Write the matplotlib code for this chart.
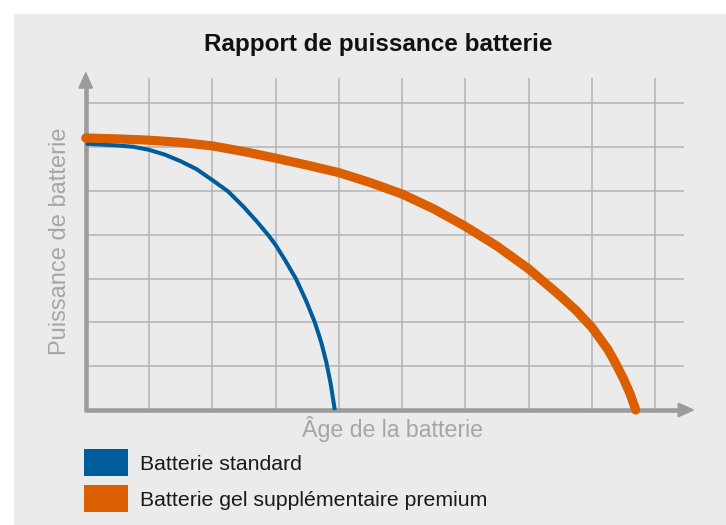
import numpy as np
import matplotlib
matplotlib.use("Agg")
import matplotlib.pyplot as plt
from matplotlib.patches import Rectangle, Polygon

# data (x = grid units of age, y = grid units of power)
age_std = [0, 0.5, 0.75, 1.0, 1.25, 1.5, 1.75, 2.0, 2.25, 2.5, 2.7, 2.88, 3.0, 3.15,
           3.32, 3.48, 3.62, 3.72, 3.80, 3.87, 3.935]
power_std = [6.08, 6.04, 6.01, 5.94, 5.83, 5.68, 5.50, 5.25, 4.99, 4.63, 4.31, 4.0, 3.77,
             3.42, 3.0, 2.5, 2.0, 1.55, 1.1, 0.6, 0.0]

age_gel = [0, 0.5, 1.0, 1.5, 2.0, 2.5, 3.0, 3.5, 4.0, 4.5, 5.0, 5.5, 6.0, 6.5, 7.0,
           7.5, 7.75, 8.0, 8.25, 8.37, 8.5, 8.6, 8.69]
power_gel = [6.21, 6.19, 6.16, 6.11, 6.03, 5.90, 5.75, 5.59, 5.42, 5.19, 4.93, 4.59,
             4.19, 3.74, 3.22, 2.60, 2.27, 1.88, 1.38, 1.07, 0.70, 0.37, 0.0]

grid_x = [1, 2, 3, 4, 5, 6, 7, 8, 9]
grid_y = [1, 2, 3, 4, 5, 6, 7]

title = "Rapport de puissance batterie"
xlabel = "Âge de la batterie"
ylabel = "Puissance de batterie"
labels = ["Batterie standard", "Batterie gel supplémentaire premium"]
colors = ["#005c9b", "#db5f00"]

W, H = 726, 525
BG = "#ebebeb"
AXC = "#9c9c9c"
GRIDC = "#b4b4b4"
TXTG = "#a6a6a6"

plt.rcParams["font.family"] = ["Liberation Sans", "DejaVu Sans"]


def fx(px):
    return px / W


def fy(py):
    return 1 - py / H


fig = plt.figure(figsize=(W / 100, H / 100), dpi=100)
fig.patch.set_facecolor("white")
fig.add_artist(Rectangle((fx(14), 0), 1 - fx(14), fy(14), transform=fig.transFigure,
                         facecolor=BG, edgecolor="none", zorder=0))

# axes placed so that 1 x unit = 63.3 px and 1 y unit = 43.8 px
x0, y0, ux, uy = 85.7, 410, 63.3, 43.8
xmax, ymax = 9.7, 7.8
ax = fig.add_axes([fx(x0), fy(y0), xmax * ux / W, ymax * uy / H])
ax.set_xlim(0, xmax)
ax.set_ylim(0, ymax)
ax.set_axis_off()

# grid
ax.vlines(grid_x, 0, 7.58, color=GRIDC, lw=1.1, zorder=1)
ax.hlines(grid_y, 0, 9.45, color=GRIDC, lw=1.1, zorder=1)

# axes with arrows
ax.plot([0, 9.4], [0, 0], color=AXC, lw=3.3, solid_capstyle="butt", zorder=2, clip_on=False)
ax.plot([0, 0], [-0.05, 7.4], color=AXC, lw=3.3, solid_capstyle="butt", zorder=2, clip_on=False)
hw = 6.8 / uy
ax.add_patch(Polygon([[9.36, hw], [9.6, 0], [9.36, -hw]], closed=True, color=AXC,
                     clip_on=False, zorder=2))
wx = 6.8 / ux
ax.add_patch(Polygon([[-wx, 7.35], [0, 7.7], [wx, 7.35]], closed=True, color=AXC,
                     clip_on=False, zorder=2))

# curves
ax.plot(age_std, power_std, color=colors[0], lw=2.9, solid_capstyle="butt",
        solid_joinstyle="round", zorder=3, clip_on=False)
ax.plot(age_gel, power_gel, color=colors[1], lw=6.6, solid_capstyle="round",
        solid_joinstyle="round", zorder=4, clip_on=False)

# texts
fig.text(fx(378), fy(51), title, ha="center", va="baseline", fontsize=17.5,
         fontweight="bold", color="#111111")
fig.text(fx(392), fy(437), xlabel, ha="center", va="baseline", fontsize=16.7, color=TXTG)
fig.text(fx(66), fy(241), ylabel, ha="center", va="baseline", rotation=90,
         rotation_mode="anchor", fontsize=17, color=TXTG)

# legend
for i, (lab, c) in enumerate(zip(labels, colors)):
    top = 449 + i * 36
    fig.add_artist(Rectangle((fx(84), fy(top + 27)), 44 / W, 27 / H, transform=fig.transFigure,
                             facecolor=c, edgecolor="none"))
    fig.text(fx(140), fy(470 + i * 36), lab, ha="left", va="baseline", fontsize=15.3,
             color="#1a1a1a")

fig.savefig("out.png", dpi=100, facecolor=fig.get_facecolor())
